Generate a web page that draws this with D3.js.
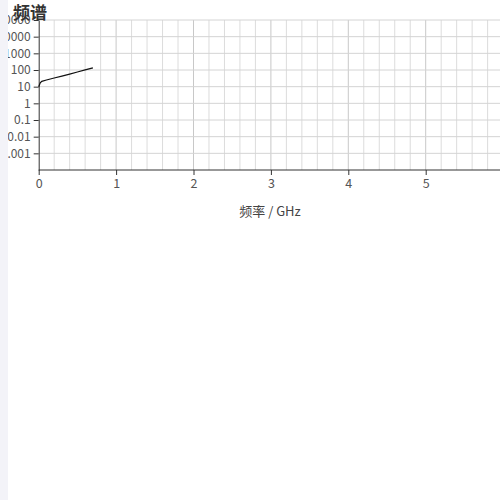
<!DOCTYPE html>
<html>
<head>
<meta charset="utf-8">
<script src="https://cdn.jsdelivr.net/npm/d3@7"></script>
<style>
  html, body { margin: 0; padding: 0; background: #f3f3f8; }
  #chart { position: absolute; left: 8px; top: 0; width: 492px; height: 500px; background: #fff; overflow: hidden; }
  text { font-family: "Noto Sans CJK SC", "Noto Sans", sans-serif; }
</style>
</head>
<body>
<div id="chart"></div>
<script>
// spectrum samples (GHz, magnitude)
var freqs = [0, 0.01, 0.02, 0.04, 0.1, 0.2, 0.3, 0.4, 0.5, 0.6, 0.7];
var mags  = [10, 13, 17, 21, 25, 33, 43, 57, 76, 101, 135];
var yTicks = [0.001, 0.01, 0.1, 1, 10, 100, 1000, 10000, 100000];
var xTicks = [0, 1, 2, 3, 4, 5, 6];
var titleText = "频谱";
var xLabel = "频率 / GHz";

var W = 492, H = 500;
var plotLeft = 30.7, plotTop = 20, plotBottom = 170, plotRight = plotLeft + 6 * 77.4;

var svg = d3.select("#chart").append("svg")
    .attr("width", W).attr("height", H);

var x = d3.scaleLinear().domain([0, 6]).range([plotLeft, plotRight]);
var y = d3.scaleLog().domain([1e-4, 1e5]).range([plotBottom, plotTop]);

// grid
var minorX = d3.range(1, 31).map(function(i) { return i * 0.2; });
svg.append("g").selectAll("line")
    .data(minorX)
    .enter().append("line")
    .attr("x1", function(d) { return x(d); })
    .attr("x2", function(d) { return x(d); })
    .attr("y1", plotTop).attr("y2", plotBottom)
    .attr("stroke", function(d) { return Math.abs(d - Math.round(d)) < 1e-6 ? "#c8c8c8" : "#dcdcdc"; })
    .attr("stroke-width", 1);

svg.append("g").selectAll("line")
    .data(yTicks)
    .enter().append("line")
    .attr("x1", plotLeft).attr("x2", W)
    .attr("y1", function(d) { return y(d); })
    .attr("y2", function(d) { return y(d); })
    .attr("stroke", "#d4d4d4")
    .attr("stroke-width", 1);

// axes
var xAxis = svg.append("g")
    .attr("transform", "translate(0," + plotBottom + ")")
    .call(d3.axisBottom(x).tickValues(xTicks).tickSize(5).tickSizeOuter(0).tickFormat(d3.format("d")));
xAxis.select(".domain").attr("stroke", "#333").attr("d", "M" + plotLeft + ",0H" + W);
xAxis.selectAll(".tick line").attr("stroke", "#333");
xAxis.selectAll(".tick text").attr("fill", "#555").attr("font-size", 12.5).attr("dy", "0.8em");

var yAxis = svg.append("g")
    .attr("transform", "translate(" + plotLeft + ",0)")
    .call(d3.axisLeft(y).tickValues(yTicks).tickSize(5).tickSizeOuter(0)
        .tickFormat(function(d) { return d >= 1 ? d3.format("d")(d) : String(d); }));
yAxis.select(".domain").attr("stroke", "#333");
yAxis.selectAll(".tick line").attr("stroke", "#333");
yAxis.selectAll(".tick text").attr("fill", "#555").attr("font-size", 12);

// spectrum line
var pts = freqs.map(function(f, i) { return [f, mags[i]]; });
svg.append("path")
    .datum(pts)
    .attr("fill", "none")
    .attr("stroke", "#111")
    .attr("stroke-width", 1.2)
    .attr("d", d3.line()
        .x(function(d) { return x(d[0]); })
        .y(function(d) { return y(d[1]); }));

// title and axis label
svg.append("text")
    .attr("x", 5).attr("y", 19)
    .attr("font-size", 17).attr("font-weight", "bold")
    .attr("fill", "#333")
    .text(titleText);

svg.append("text")
    .attr("x", 262).attr("y", 216)
    .attr("text-anchor", "middle")
    .attr("font-size", 13).attr("fill", "#444")
    .text(xLabel);
</script>
</body>
</html>
